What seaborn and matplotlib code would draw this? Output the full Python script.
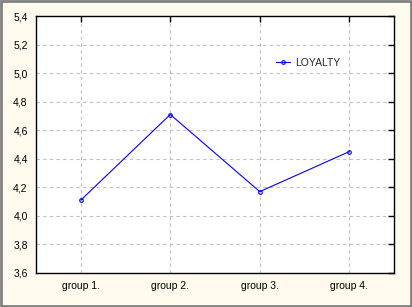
import matplotlib
matplotlib.use("Agg")
import matplotlib.pyplot as plt
import matplotlib.patches as mpatches
import pandas as pd
import seaborn as sns

groups = ["group 1.", "group 2.", "group 3.", "group 4."]
loyalty = [4.11, 4.71, 4.17, 4.45]
y_ticks = [3.6, 3.8, 4.0, 4.2, 4.4, 4.6, 4.8, 5.0, 5.2, 5.4]

sns.set_style("white")
plt.rcParams["font.family"] = ["Liberation Sans", "DejaVu Sans"]

df = pd.DataFrame({"group": groups, "LOYALTY": loyalty})

bg = "#FFF9EE"
fig = plt.figure(figsize=(4.12, 3.07), dpi=100, facecolor=bg)
ax = fig.add_axes([36 / 412, 1 - 273 / 307, 358 / 412, 257 / 307])

sns.lineplot(data=df, x="group", y="LOYALTY", ax=ax, color="#0000FF",
             linewidth=0.8, marker="o", markersize=2.6, markerfacecolor="none",
             markeredgecolor="#0000FF", markeredgewidth=0.8, label="LOYALTY",
             sort=False)

ax.set_xlim(-0.5, 3.5)
ax.set_ylim(3.6, 5.4)
ax.set_yticks(y_ticks)
ax.set_yticklabels([f"{t:.1f}".replace(".", ",") for t in y_ticks])
ax.set_xticks(range(len(groups)))
ax.set_xticklabels(groups)
ax.set_xlabel("")
ax.set_ylabel("")
ax.tick_params(axis="both", direction="in", length=4, width=1, labelsize=7.5,
               colors="black", top=True, right=True, pad=6)
ax.grid(True, linestyle=(0, (3, 3)), color="#C0C0C0", linewidth=0.8)
for s in ax.spines.values():
    s.set_color("black")
    s.set_linewidth(1)
ax.set_facecolor("white")

leg = ax.legend(loc="center left", bbox_to_anchor=(0.643, 0.817), frameon=False,
                fontsize=7.5, handlelength=1.4, handletextpad=0.5)

# outer frame
fig.patches.append(mpatches.Rectangle((0.003, 0.004), 0.994, 0.992, transform=fig.transFigure,
                                      fill=False, edgecolor="#808080", linewidth=2))

fig.savefig("out.png", dpi=100, facecolor=bg)
